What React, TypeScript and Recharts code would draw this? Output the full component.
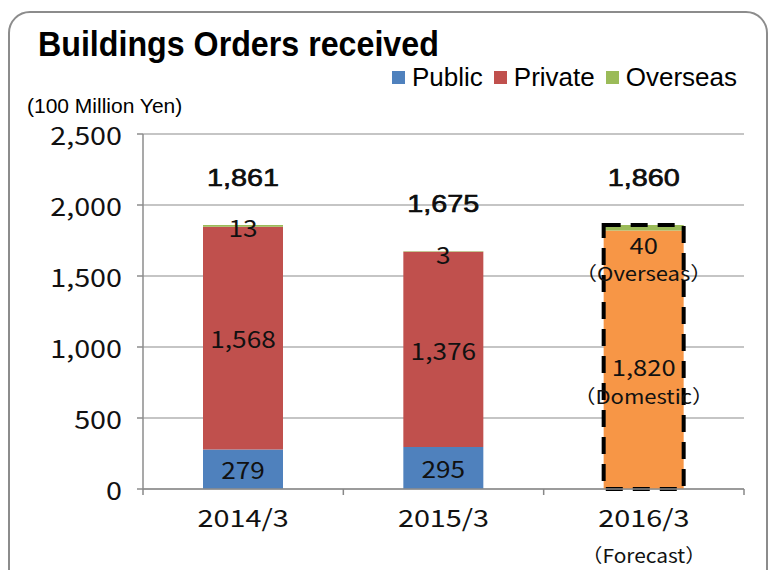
import React from 'react';
import { BarChart, Bar, XAxis, YAxis, CartesianGrid, LabelList } from 'recharts';

const categories = ['2014/3', '2015/3', '2016/3'];
const subLabels = ['', '', '（Forecast）'];
const publicValues = [279, 295, null];
const privateValues = [1568, 1376, null];
const overseasValues = [13, 3, 40];
const domesticValues = [null, null, 1820];
const totals = [1861, 1675, 1860];
const forecastOutline = [null, null, 1860];
const yTicks = [0, 500, 1000, 1500, 2000, 2500];

const data = categories.map((c, i) => ({
  category: c,
  sub: subLabels[i],
  public: publicValues[i],
  private: privateValues[i],
  domestic: domesticValues[i],
  overseas: overseasValues[i],
  total: totals[i],
  outline: forecastOutline[i],
}));

const NUM_FONT = '"Noto Sans CJK JP", "Noto Sans", sans-serif';
const TXT_FONT = '"Liberation Sans", Arial, sans-serif';
const fmt = (v: number) => v.toLocaleString('en-US');

const SText = ({ x, y, sx = 1, size, font = NUM_FONT, anchor = 'middle', weight = 400, stroke, children }: any) => (
  <text transform={`translate(${x},${y}) scale(${sx},1)`} x={0} y={0} textAnchor={anchor}
    dominantBaseline="central" fontFamily={font} fontSize={size} fontWeight={weight} fill="#111"
    stroke={stroke ? '#000' : undefined} strokeWidth={stroke || undefined}>
    {children}
  </text>
);

const CenterLabel = (props: any) => {
  const { x, y, width, height, value } = props;
  if (value == null) return null;
  return <SText x={x + width / 2} y={y + height / 2} size={23} sx={1.14}>{fmt(value)}</SText>;
};

const OverseasLabel = (props: any) => {
  const { x, y, width, value, index } = props;
  if (value == null) return null;
  const cx = x + width / 2;
  if (index === 2) {
    return (
      <g>
        <SText x={cx} y={y + 19} size={22} sx={1.16}>{fmt(value)}</SText>
        <SText x={cx} y={y + 48} size={19} sx={1.16}>（Overseas）</SText>
      </g>
    );
  }
  return <SText x={cx} y={y + 2} size={23} sx={1.14}>{fmt(value)}</SText>;
};

const DomesticLabel = (props: any) => {
  const { x, y, width, height, value } = props;
  if (value == null) return null;
  const cx = x + width / 2;
  const cy = y + height / 2;
  return (
    <g>
      <SText x={cx} y={cy + 7} size={22} sx={1.16}>{fmt(value)}</SText>
      <SText x={cx} y={cy + 36} size={19} sx={1.16}>（Domestic）</SText>
    </g>
  );
};

const TotalLabel = (props: any) => {
  const { x, y, width, value } = props;
  if (value == null) return null;
  return <SText x={x + width / 2} y={y - 47} size={24} sx={1.2} font={TXT_FONT} stroke={0.6}>{fmt(value)}</SText>;
};

const XTick = (props: any) => {
  const { x, y, payload, index, width, visibleTicksCount } = props;
  const half = width / visibleTicksCount / 2;
  const row = data[index];
  return (
    <g>
      {index === 0 && <line x1={x - half} y1={y - 8} x2={x - half} y2={y - 2} stroke="#888" strokeWidth={1.5} />}
      <line x1={x + half} y1={y - 8} x2={x + half} y2={y - 2} stroke="#888" strokeWidth={1.5} />
      <SText x={x} y={y + 20} size={24} sx={1.2}>{payload.value}</SText>
      {row && row.sub && <SText x={x} y={y + 58} size={19} sx={1.1}>{row.sub}</SText>}
    </g>
  );
};

const YTick = (props: any) => {
  const { x, y, payload } = props;
  return <SText x={x} y={y} size={25} sx={1.15} anchor="end">{fmt(payload.value)}</SText>;
};

const legendItems = [['Public', '#4F81BD'], ['Private', '#C0504D'], ['Overseas', '#9BBB59']];

export default function App() {
  return (
    <div style={{ position: 'absolute', left: 0, top: 0, width: 772, height: 570, background: '#fff', overflow: 'hidden' }}>
      <div style={{ position: 'absolute', left: 8, top: 11, width: 760, height: 620, border: '2px solid #8c8c8c', borderRadius: 22, boxSizing: 'border-box' }} />
      <BarChart width={772} height={570} data={data} margin={{ top: 134, right: 28, bottom: 51, left: 0 }} barSize={80}>
        <CartesianGrid vertical={false} stroke="#8c8c8c" strokeWidth={1.2} />
        <XAxis dataKey="category" xAxisId="main" height={30} axisLine={{ stroke: '#8c8c8c', strokeWidth: 1.5 }} tickLine={false} tick={<XTick />} interval={0} />
        <XAxis dataKey="category" xAxisId="outline" hide />
        <YAxis width={143} domain={[0, 2500]} ticks={yTicks} interval={0} tickSize={6} tickMargin={15}
          axisLine={{ stroke: '#8c8c8c', strokeWidth: 1.5 }} tickLine={{ stroke: '#8c8c8c', strokeWidth: 1.5 }} tick={<YTick />} />
        <Bar dataKey="public" stackId="a" xAxisId="main" fill="#4F81BD" isAnimationActive={false}>
          <LabelList dataKey="public" content={<CenterLabel />} />
        </Bar>
        <Bar dataKey="private" stackId="a" xAxisId="main" fill="#C0504D" isAnimationActive={false}>
          <LabelList dataKey="private" content={<CenterLabel />} />
        </Bar>
        <Bar dataKey="domestic" stackId="a" xAxisId="main" fill="#F79646" isAnimationActive={false}>
          <LabelList dataKey="domestic" content={<DomesticLabel />} />
        </Bar>
        <Bar dataKey="overseas" stackId="a" xAxisId="main" fill="#9BBB59" isAnimationActive={false}>
          <LabelList dataKey="overseas" content={<OverseasLabel />} />
          <LabelList dataKey="total" content={<TotalLabel />} />
        </Bar>
        <Bar dataKey="outline" xAxisId="outline" fill="none" stroke="#000" strokeWidth={4} strokeDasharray="17 10" isAnimationActive={false} />
      </BarChart>
      <div style={{ position: 'absolute', left: 38, top: 24, fontFamily: TXT_FONT, fontWeight: 700, fontSize: 35, lineHeight: '40px', color: '#000', whiteSpace: 'nowrap', transform: 'scaleX(0.92)', transformOrigin: 'left top' }}>
        Buildings Orders received
      </div>
      <div style={{ position: 'absolute', left: 392, top: 62, height: 30, display: 'flex', alignItems: 'center', fontFamily: TXT_FONT, fontSize: 26, lineHeight: '30px', color: '#000', whiteSpace: 'nowrap' }}>
        {legendItems.map(([name, color]) => (
          <span key={name} style={{ display: 'flex', alignItems: 'center', marginRight: 11 }}>
            <span style={{ display: 'inline-block', width: 13, height: 13, background: color, marginRight: 7 }} />
            <span>{name}</span>
          </span>
        ))}
      </div>
      <div style={{ position: 'absolute', left: 27, top: 94, fontFamily: TXT_FONT, fontSize: 21, lineHeight: '24px', color: '#000', whiteSpace: 'nowrap' }}>
        (100 Million Yen)
      </div>
    </div>
  );
}
